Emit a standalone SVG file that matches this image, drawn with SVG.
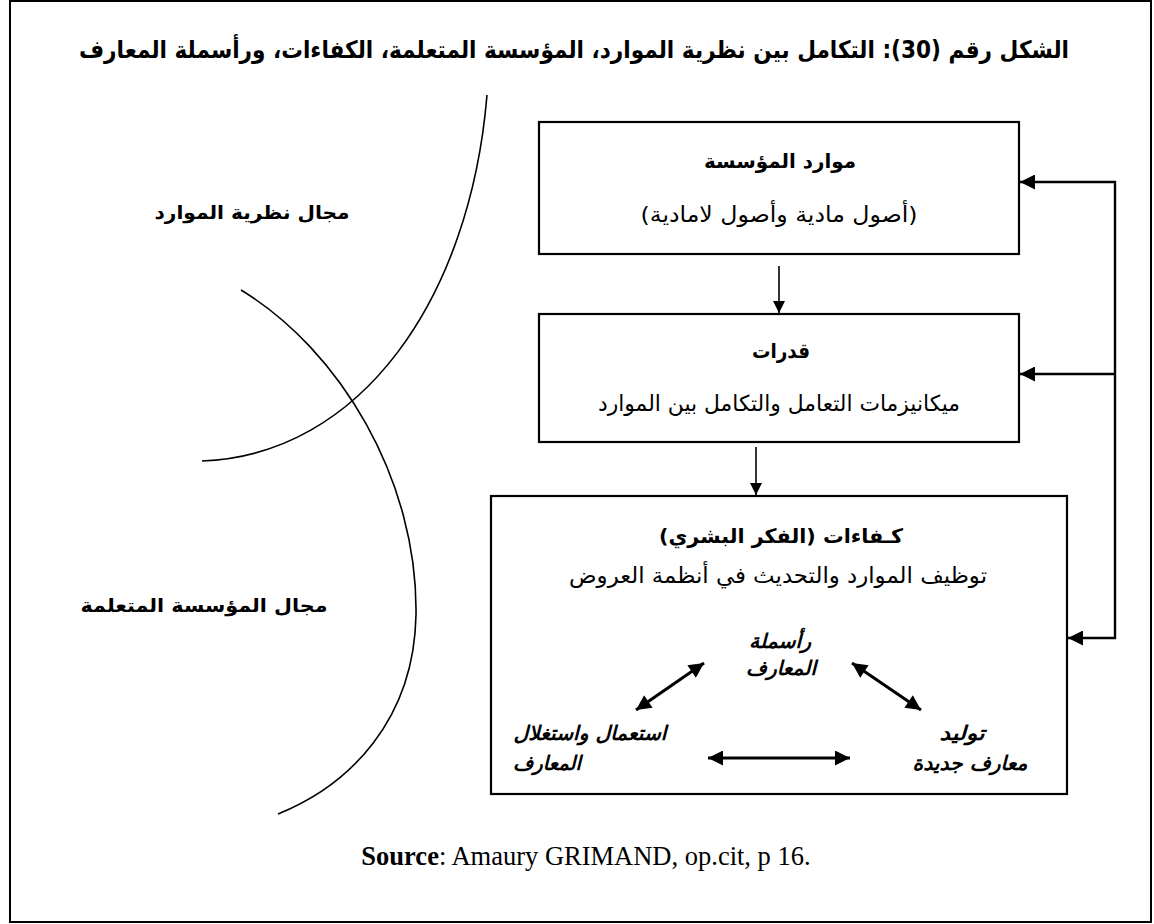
<svg xmlns="http://www.w3.org/2000/svg" width="1154" height="924" viewBox="0 0 1154 924">
  <defs>
    <marker id="tri" viewBox="0 0 10 10" refX="10" refY="5" markerWidth="14" markerHeight="12" markerUnits="userSpaceOnUse" orient="auto-start-reverse">
      <path d="M0,0 L10,5 L0,10 Z" fill="#000"/>
    </marker>
    <marker id="tri-big" viewBox="0 0 10 10" refX="10" refY="5" markerWidth="15" markerHeight="15" markerUnits="userSpaceOnUse" orient="auto-start-reverse">
      <path d="M0,0 L10,5 L0,10 Z" fill="#000"/>
    </marker>
    <marker id="tri-fat" viewBox="0 0 10 10" refX="10" refY="5" markerWidth="16" markerHeight="15" markerUnits="userSpaceOnUse" orient="auto-start-reverse">
      <path d="M0,0 L10,5 L0,10 Z" fill="#000"/>
    </marker>
    <style>
      .frame { fill: #fff; stroke: #000; stroke-width: 2; }
      .box { fill: #fff; stroke: #000; stroke-width: 2.2; }
      .curve { fill: none; stroke: #000; stroke-width: 1.6; }
      .link { fill: none; stroke: #000; stroke-width: 2.4; }
      .down { fill: none; stroke: #000; stroke-width: 1.6; }
      .dbl { fill: none; stroke: #000; stroke-width: 3; }
      .ar { font-family: "DejaVu Sans", "Liberation Sans", sans-serif; direction: rtl; unicode-bidi: embed; text-anchor: middle; fill: #000; }
      .title { font-size: 24px; font-weight: bold; }
      .head { font-size: 20px; font-weight: bold; }
      .body { font-size: 22px; }
      .zone { font-size: 19px; font-weight: bold; }
      .it { font-size: 20px; font-weight: bold; font-style: italic; }
      .src { font-family: "Liberation Serif", "Times New Roman", serif; font-size: 26.5px; fill: #000; }
    </style>
  </defs>

  <!-- page frame -->
  <rect class="frame" x="10" y="1" width="1141" height="921"/>

  <!-- figure caption -->
  <text class="ar title" x="574" y="58" textLength="990" lengthAdjust="spacingAndGlyphs">الشكل رقم (30): التكامل بين نظرية الموارد، المؤسسة المتعلمة، الكفاءات، ورأسملة المعارف</text>

  <!-- domain arcs and their labels -->
  <g id="domain-resources">
    <path class="curve" d="M487,95 C470,300 360,455 202,461"/>
    <text class="ar zone" x="252" y="219" textLength="195" lengthAdjust="spacingAndGlyphs">مجال نظرية الموارد</text>
  </g>
  <g id="domain-learning">
    <path class="curve" d="M241,290 C340,350 418,480 416,615 C414,720 350,785 278,814"/>
    <text class="ar zone" x="204" y="612" textLength="247" lengthAdjust="spacingAndGlyphs">مجال المؤسسة المتعلمة</text>
  </g>

  <!-- connectors -->
  <g id="connectors">
    <line class="down" x1="779" y1="266" x2="779" y2="313" marker-end="url(#tri)"/>
    <line class="down" x1="756" y1="447" x2="756" y2="495" marker-end="url(#tri)"/>
    <polyline class="link" points="1115,181 1115,639"/>
    <line class="link" x1="1116" y1="182" x2="1020" y2="182" marker-end="url(#tri-big)"/>
    <line class="link" x1="1116" y1="374" x2="1020" y2="374" marker-end="url(#tri-big)"/>
    <line class="link" x1="1116" y1="638" x2="1068" y2="638" marker-end="url(#tri-big)"/>
  </g>

  <!-- resources -->
  <g id="node-resources">
    <rect class="box" x="539" y="122" width="480" height="132"/>
    <text class="ar head" x="780" y="168" textLength="152" lengthAdjust="spacingAndGlyphs">موارد المؤسسة</text>
    <text class="ar body" x="779" y="222" textLength="277" lengthAdjust="spacingAndGlyphs">(أصول مادية وأصول لامادية)</text>
  </g>

  <!-- capabilities -->
  <g id="node-capabilities">
    <rect class="box" x="539" y="314" width="480" height="128"/>
    <text class="ar head" x="781" y="358" textLength="58" lengthAdjust="spacingAndGlyphs">قدرات</text>
    <text class="ar body" x="779" y="411" textLength="362" lengthAdjust="spacingAndGlyphs">ميكانيزمات التعامل والتكامل بين الموارد</text>
  </g>

  <!-- competences -->
  <g id="node-competences">
    <rect class="box" x="491" y="496" width="576" height="298"/>
    <text class="ar head" x="781" y="543" textLength="244" lengthAdjust="spacingAndGlyphs">كـفاءات (الفكر البشري)</text>
    <text class="ar body" x="778" y="583" textLength="418" lengthAdjust="spacingAndGlyphs">توظيف الموارد والتحديث في أنظمة العروض</text>

    <text class="ar it" x="780" y="648" textLength="62" lengthAdjust="spacingAndGlyphs">رأسملة</text>
    <text class="ar it" x="781" y="675" textLength="70" lengthAdjust="spacingAndGlyphs">المعارف</text>
    <text class="ar it" x="590" y="740" textLength="153" lengthAdjust="spacingAndGlyphs">استعمال واستغلال</text>
    <text class="ar it" x="547" y="770" textLength="68" lengthAdjust="spacingAndGlyphs">المعارف</text>
    <text class="ar it" x="962" y="740" textLength="45" lengthAdjust="spacingAndGlyphs">توليد</text>
    <text class="ar it" x="970" y="770" textLength="115" lengthAdjust="spacingAndGlyphs">معارف جديدة</text>

    <line class="dbl" x1="704" y1="663" x2="636" y2="710" marker-start="url(#tri-fat)" marker-end="url(#tri-fat)"/>
    <line class="dbl" x1="852" y1="663" x2="921" y2="710" marker-start="url(#tri-fat)" marker-end="url(#tri-fat)"/>
    <line class="dbl" x1="708" y1="758" x2="850" y2="758" marker-start="url(#tri-fat)" marker-end="url(#tri-fat)"/>
  </g>

  <!-- source line -->
  <text class="src" x="586" y="865" text-anchor="middle"><tspan font-weight="bold">Source</tspan>: Amaury GRIMAND, op.cit, p 16.</text>
</svg>
